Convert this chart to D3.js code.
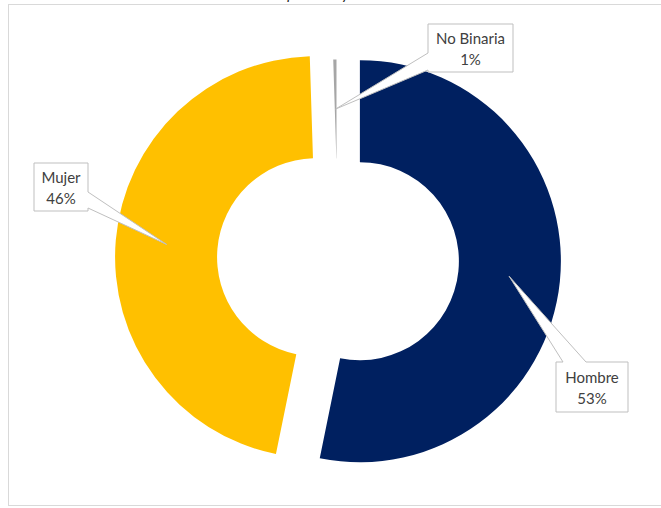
<!DOCTYPE html>
<html>
<head>
<meta charset="utf-8">
<script src="https://cdn.jsdelivr.net/npm/d3@7/dist/d3.min.js"></script>
<style>
  html, body { margin: 0; padding: 0; background: #ffffff; }
  svg { display: block; }
</style>
</head>
<body>
<svg id="chart" width="661" height="508"></svg>
<script>
// ---- data ----
const categories = ["Hombre", "Mujer", "No Binaria"];
const values = [53.2, 46.3, 0.5];
const percentLabels = ["53%", "46%", "1%"];
const colors = ["#002060", "#FFC000", "#A6A6A6"];
const titleText = "Distribución por sexo y identidad";

// ---- layout ----
const W = 661, H = 508;
const cx = 338, cy = 259;
const outerR = 201, innerR = 99;
const explode = [22, 22, 0];
const boxes = [
  { x: 556, y: 362, w: 72, h: 50, side: "top", a: 563, b: 586 },
  { x: 34, y: 163, w: 54, h: 48, side: "right", a: 192, b: 208 },
  { x: 428, y: 24, w: 85, h: 48, side: "left", a: 53, b: 70 }
];

const svg = d3.select("#chart");

// chart area border
svg.append("rect")
  .attr("x", 8.5).attr("y", 4.5)
  .attr("width", 680).attr("height", 501)
  .attr("fill", "#ffffff")
  .attr("stroke", "#d9d9d9").attr("stroke-width", 1);

// title (cut off at top, as in the reference)
svg.append("text")
  .attr("x", 208).attr("y", -1)
  .attr("font-family", "Lato, 'Open Sans', sans-serif")
  .attr("font-style", "italic")
  .attr("font-size", 15)
  .attr("fill", "#262626")
  .text(titleText);

const pie = d3.pie().sort(null).value(d => d).startAngle(0).endAngle(2 * Math.PI);
const arcs = pie(values);
const arc = d3.arc().innerRadius(innerR).outerRadius(outerR);

const g = svg.append("g").attr("transform", `translate(${cx},${cy})`);

function offset(d, i) {
  const mid = (d.startAngle + d.endAngle) / 2;
  return [explode[i] * Math.sin(mid), -explode[i] * Math.cos(mid)];
}

g.selectAll("path.slice")
  .data(arcs)
  .enter().append("path")
  .attr("class", "slice")
  .attr("transform", (d, i) => { const o = offset(d, i); return `translate(${o[0]},${o[1]})`; })
  .attr("d", arc)
  .attr("fill", (d, i) => colors[i])
  .attr("stroke", "#ffffff")
  .attr("stroke-width", (d, i) => i === 2 ? 3 : 0);

// callouts
function calloutPath(b, tip) {
  const x0 = b.x, y0 = b.y, x1 = b.x + b.w, y1 = b.y + b.h;
  const pts = [[x0, y0]];
  if (b.side === "top") pts.push([b.a, y0], tip, [b.b, y0]);
  pts.push([x1, y0]);
  if (b.side === "right") pts.push([x1, b.a], tip, [x1, b.b]);
  pts.push([x1, y1]);
  pts.push([x0, y1]);
  if (b.side === "left") pts.push([x0, b.b], tip, [x0, b.a]);
  return "M" + pts.map(p => p.join(",")).join("L") + "Z";
}

arcs.forEach((d, i) => {
  const c = arc.centroid(d);
  const o = offset(d, i);
  const tip = [cx + c[0] + o[0], cy + c[1] + o[1]];
  const b = boxes[i];
  svg.append("path")
    .attr("d", calloutPath(b, tip))
    .attr("fill", "#ffffff")
    .attr("stroke", "#bfbfbf")
    .attr("stroke-width", 1)
    .attr("stroke-linejoin", "miter");
  const t = svg.append("text")
    .attr("text-anchor", "middle")
    .attr("font-family", "Lato, 'Open Sans', sans-serif")
    .attr("font-size", 15)
    .attr("fill", "#404040");
  t.append("tspan").attr("x", b.x + b.w / 2).attr("y", b.y + b.h / 2 - 4).text(categories[i]);
  t.append("tspan").attr("x", b.x + b.w / 2).attr("y", b.y + b.h / 2 + 17).text(percentLabels[i]);
});
</script>
</body>
</html>
